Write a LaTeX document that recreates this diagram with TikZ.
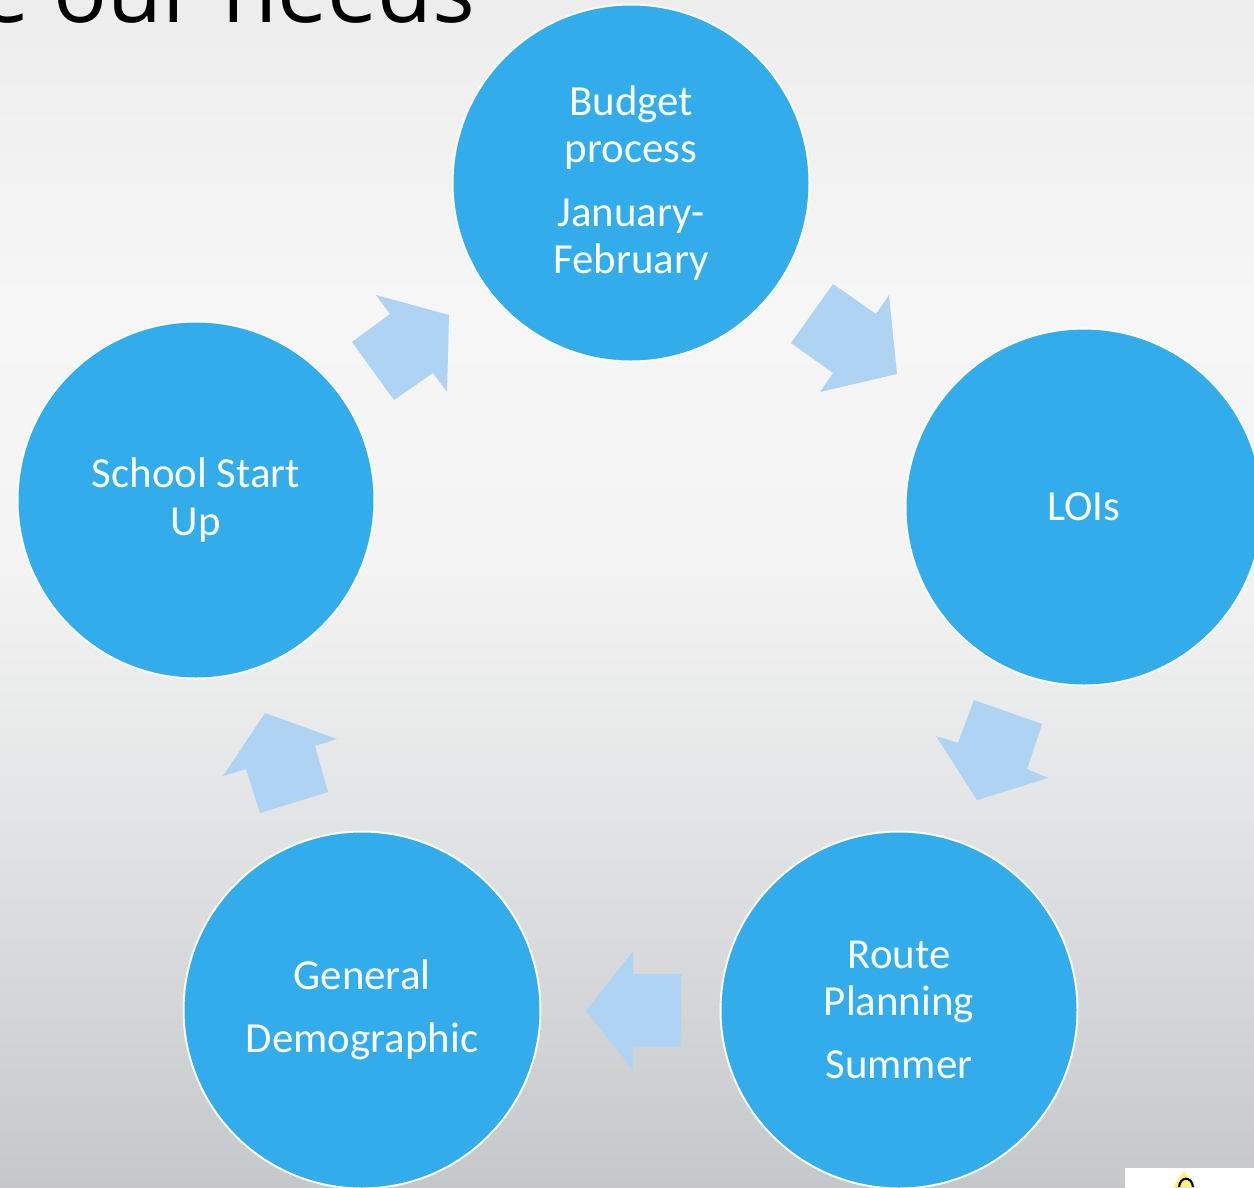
\documentclass[tikz,border=0pt]{standalone}
\usepackage{fontspec}
\setmainfont{Carlito}
\newfontfamily\titlefont{Open Sans}
\definecolor{circblue}{HTML}{32ACEA}
\definecolor{arrblue}{HTML}{AED3F3}
\definecolor{bgA}{HTML}{C5C8CA}
\definecolor{bgB}{HTML}{D4D6D8}
\definecolor{bgC}{HTML}{E4E5E6}
\definecolor{bgD}{HTML}{F4F4F4}
\definecolor{bgE}{HTML}{F6F6F6}
\definecolor{bgF}{HTML}{EDEDED}
\definecolor{logoyellow}{HTML}{FFF27A}
\pgfdeclareverticalshading{bgshade}{100bp}{color(0bp)=(bgA); color(25bp)=(bgA); color(32.9bp)=(bgB); color(41.3bp)=(bgC); color(51.8bp)=(bgD); color(62.4bp)=(bgE); color(75bp)=(bgF); color(100bp)=(bgF)}
\tikzset{
  stage/.style={circle, fill=circblue, draw=white, line width=1.1pt, minimum size=7.14cm, inner sep=0pt,
    text=white, align=center, font=\fontsize{24.4pt}{27pt}\selectfont},
  blockarrow/.style={fill=arrblue, draw=none},
}
\begin{document}
\begin{tikzpicture}[x=0.02cm, y=-0.02cm]
\useasboundingbox (0,0) rectangle (1254,1187);
\clip (0,0) rectangle (1254,1187);
\shade[shading=bgshade] (0,0) rectangle (1254,1187);
% title (cut off at top)
\node[anchor=base east, inner sep=0pt, font=\titlefont\fontsize{51pt}{60pt}\selectfont, text=black] (title) at (476,22) {e our needs};
% stages
\node[stage] (budget) at (631,183) {Budget\\process\\[9pt]January-\\February};
\node[stage] (lois) at (1084,507) {LOIs};
\node[stage] (route) at (899,1010) {Route\\Planning\\[9pt]Summer};
\node[stage] (general) at (362,1010) {General\\[9pt]Demographic};
\node[stage] (school) at (196,500) {School Start\\Up};
% block arrows
\fill[blockarrow] (376,295) -- (449,315) -- (447,392) -- (433,373) -- (394,400) -- (352,342) -- (390,314) -- cycle;
\fill[blockarrow] (833,284) -- (876,314) -- (889,295) -- (897,374) -- (820,392) -- (833,373) -- (791,343) -- cycle;
\fill[blockarrow] (974,700) -- (1042,724) -- (1027,769) -- (1048,778) -- (977,800) -- (936,736) -- (958,743) -- cycle;
\fill[blockarrow] (633,951) -- (633,974) -- (681,974) -- (681,1047) -- (633,1047) -- (633,1070) -- (586,1011) -- cycle;
\fill[blockarrow] (265,713) -- (337,739) -- (315,746) -- (328,792) -- (260,813) -- (246,769) -- (223,776) -- cycle;
% logo corner
\fill[white] (1125,1168) rectangle (1254,1190);
\fill[logoyellow] (1184,1171) -- (1197,1190) -- (1171,1190) -- cycle;
\draw[black, line width=1.2pt] (1179,1187) .. controls (1180,1176) and (1192,1176) .. (1193,1187);
\end{tikzpicture}
\end{document}
